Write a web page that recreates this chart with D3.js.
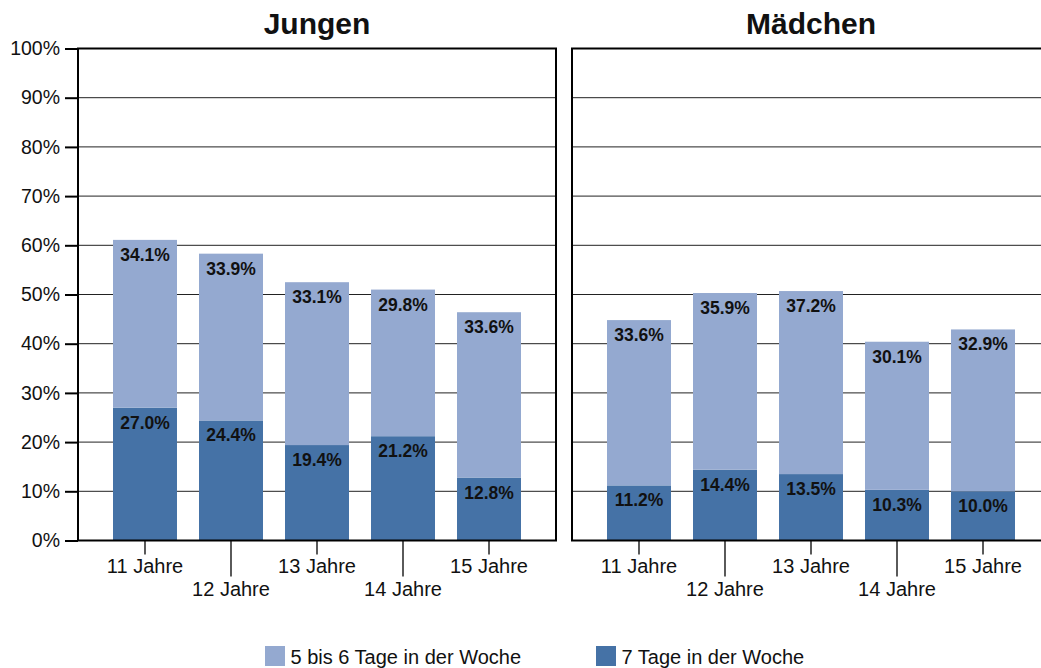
<!DOCTYPE html>
<html>
<head>
<meta charset="utf-8">
<script src="https://cdn.jsdelivr.net/npm/d3@7"></script>
<style>
  body { margin: 0; background: #fff; }
  svg { display: block; font-family: Arial, "Liberation Sans", sans-serif; }
</style>
</head>
<body>
<div id="chart"></div>
<script>
// data
var ages = ["11 Jahre", "12 Jahre", "13 Jahre", "14 Jahre", "15 Jahre"];
var panelNames = ["Jungen", "Mädchen"];
var seriesNames = ["5 bis 6 Tage in der Woche", "7 Tage in der Woche"];
var jungen7 = [27.0, 24.4, 19.4, 21.2, 12.8];
var jungen56 = [34.1, 33.9, 33.1, 29.8, 33.6];
var maedchen7 = [11.2, 14.4, 13.5, 10.3, 10.0];
var maedchen56 = [33.6, 35.9, 37.2, 30.1, 32.9];
var yTicks = [0, 10, 20, 30, 40, 50, 60, 70, 80, 90, 100];

var colorLight = "#94a9d0";
var colorDark = "#4572a6";

var width = 1041, height = 668;
var panelW = 478;
var panelX = [78, 572];
var plotTop = 48.5, plotBottom = 540.5;

var svg = d3.select("#chart").append("svg")
  .attr("width", width)
  .attr("height", height);

var y = d3.scaleLinear().domain([0, 100]).range([plotBottom, plotTop]);
var x = d3.scaleBand().domain(ages).range([0, panelW])
  .paddingInner(0.256).paddingOuter(0.407);

var panelData = [
  ages.map(function(a, i){ return {age: a, seven: jungen7[i], five: jungen56[i]}; }),
  ages.map(function(a, i){ return {age: a, seven: maedchen7[i], five: maedchen56[i]}; })
];

var stack = d3.stack().keys(["seven", "five"]);

panelNames.forEach(function(name, p){
  var g = svg.append("g").attr("transform", "translate(" + panelX[p] + ",0)");

  // gridlines
  g.append("g").selectAll("line")
    .data(yTicks.slice(1, -1))
    .join("line")
      .attr("x1", 0).attr("x2", panelW)
      .attr("y1", d => y(d)).attr("y2", d => y(d))
      .attr("stroke", "#222").attr("stroke-width", 1);

  // stacked bars
  var layers = stack(panelData[p]);
  g.append("g").selectAll("g")
    .data(layers)
    .join("g")
      .attr("fill", d => d.key == "seven" ? colorDark : colorLight)
    .selectAll("rect")
    .data(d => d)
    .join("rect")
      .attr("x", d => x(d.data.age))
      .attr("width", x.bandwidth())
      .attr("y", d => y(d[1]))
      .attr("height", d => y(d[0]) - y(d[1]));

  // value labels
  layers.forEach(function(layer){
    g.append("g").selectAll("text")
      .data(layer)
      .join("text")
        .attr("x", d => x(d.data.age) + x.bandwidth() / 2)
        .attr("y", d => y(d[1]) + 21)
        .attr("text-anchor", "middle")
        .attr("font-size", "17.5px")
        .attr("font-weight", "bold")
        .attr("fill", "#111")
        .text(d => (d[1] - d[0]).toFixed(1) + "%");
  });

  // frame
  g.append("rect")
    .attr("x", 0).attr("y", plotTop)
    .attr("width", panelW).attr("height", plotBottom - plotTop)
    .attr("fill", "none").attr("stroke", "#000").attr("stroke-width", 2);

  // x ticks, alternating length
  var xt = g.append("g").selectAll("g")
    .data(ages)
    .join("g")
      .attr("transform", d => "translate(" + (x(d) + x.bandwidth() / 2) + ",0)");
  xt.append("line")
    .attr("y1", plotBottom)
    .attr("y2", (d, i) => i % 2 == 0 ? plotBottom + 14 : plotBottom + 36)
    .attr("stroke", "#000").attr("stroke-width", 1.3);
  xt.append("text")
    .attr("y", (d, i) => i % 2 == 0 ? 573 : 595.5)
    .attr("text-anchor", "middle")
    .attr("font-size", "20px")
    .attr("fill", "#111")
    .text(d => d);

  // title
  g.append("text")
    .attr("x", panelW / 2).attr("y", 34)
    .attr("text-anchor", "middle")
    .attr("font-size", "30px")
    .attr("font-weight", "bold")
    .attr("fill", "#111")
    .text(name);
});

// y axis on the left panel
var yAxis = d3.axisLeft(y)
  .tickValues(yTicks)
  .tickSize(13)
  .tickPadding(5)
  .tickFormat(d => d + "%");
var ya = svg.append("g")
  .attr("transform", "translate(" + panelX[0] + ",0)")
  .call(yAxis);
ya.select(".domain").remove();
ya.selectAll(".tick line").attr("stroke", "#000").attr("stroke-width", 2);
ya.selectAll(".tick text")
  .attr("font-size", "19.5px")
  .attr("font-family", "Arial, 'Liberation Sans', sans-serif")
  .attr("fill", "#111");

// legend
var legendX = [265, 596];
var leg = svg.append("g").selectAll("g")
  .data(seriesNames)
  .join("g")
    .attr("transform", (d, i) => "translate(" + legendX[i] + ",646)");
leg.append("rect")
  .attr("width", 20).attr("height", 20)
  .attr("fill", (d, i) => i == 0 ? colorLight : colorDark);
leg.append("text")
  .attr("x", 25.5).attr("y", 17.5)
  .attr("font-size", "20px")
  .attr("fill", "#111")
  .text(d => d);
</script>
</body>
</html>
